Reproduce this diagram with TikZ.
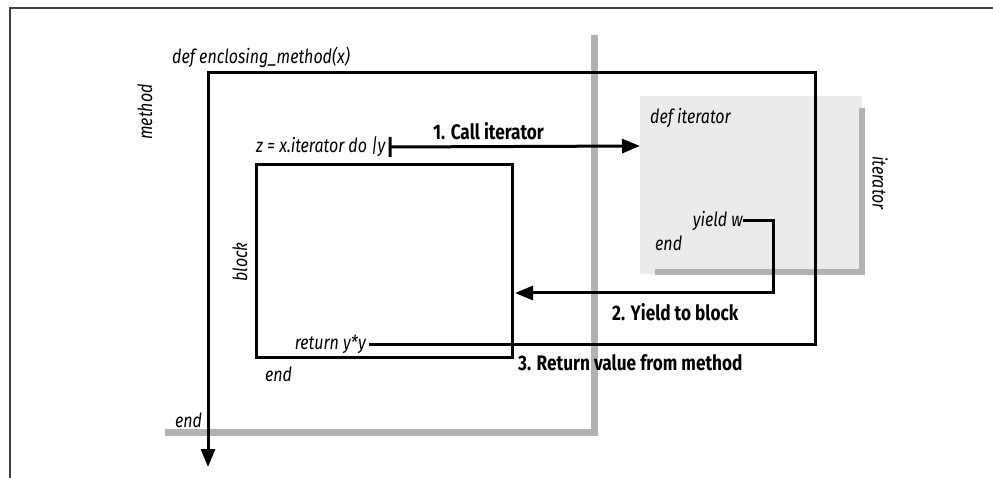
\documentclass[tikz,border=0pt]{standalone}
\usepackage{fontspec}
\setmainfont{Fira Sans}[FakeStretch=0.82]
\usetikzlibrary{arrows.meta}
\begin{document}
\begin{tikzpicture}[x=1pt,y=-1pt,
  lbl/.style={font=\fontsize{19.5}{22}\selectfont\itshape, inner sep=0pt},
  blbl/.style={font=\fontsize{21}{24}\selectfont\bfseries, inner sep=0pt},
  heavy/.style={line width=3pt},
  flow/.style={heavy, -{Triangle[length=18pt,width=14pt]}},
  shadow/.style={line width=7pt, draw=gray!60},
  frame/.style={line width=1.2pt, draw=black!75}]
\useasboundingbox (0,0) rectangle (993,478);
% outer frame of the figure
\draw[frame] (10,478) -- (10,8) -- (993,8);
% page shadow
\draw[shadow] (594,35) -- (594,432) -- (165,432);
% iterator shaded box
\node[fill=gray!16, minimum width=222pt, minimum height=178pt, inner sep=0pt] (itbox) at (751,185) {};
\draw[shadow, line width=6pt] (862,108) -- (862,272) -- (655,272);
% block
\node[draw, heavy, minimum width=256pt, minimum height=192pt, inner sep=0pt] (block) at (384,261) {};
% texts
\node[lbl, anchor=west] (defm) at (172,57) {def enclosing\_method(x)};
\node[lbl, rotate=90] (methodlbl) at (145,112) {method};
\node[lbl, anchor=west] (zline) at (256,147) {z = x.iterator do |y};
\node[blbl, anchor=west] (call) at (433,131) {1. Call iterator};
\node[lbl, anchor=west] (defit) at (650,118) {def iterator};
\node[lbl, rotate=-90] (itlbl) at (880,183) {iterator};
\node[lbl, anchor=east] (yield) at (743,221) {yield w};
\node[lbl, anchor=west] (itend) at (655,243) {end};
\node[lbl, rotate=90] (blocklbl) at (240,262) {block};
\node[blbl, anchor=west] (yieldlbl) at (612,312) {2. Yield to block};
\node[lbl, anchor=east] (ret) at (366,344) {return y*y};
\node[lbl, anchor=west] (blockend) at (265,374) {end};
\node[blbl, anchor=west] (retlbl) at (518,363) {3. Return value from method};
\node[lbl, anchor=west] (mend) at (175,420) {end};
% coordinates
\coordinate (callend) at (640,146);
\coordinate (ycorner) at (773,293);
\coordinate (mr) at (815,344);
\coordinate (mtr) at (815,73);
\coordinate (mtl) at (208,73);
\coordinate (mbot) at (208,467);
% connectors
\draw[heavy, {Bar[width=20pt]}-{Triangle[length=18pt,width=14pt]}] ([xshift=3pt]zline.east) -- (callend);
\draw[flow] (yield.east) -| (ycorner) -- ([xshift=1.5pt]block.east |- ycorner);
\draw[flow] ([xshift=3pt]ret.east) -- (mr) -- (mtr) -- (mtl) -- (mbot);
\end{tikzpicture}
\end{document}
